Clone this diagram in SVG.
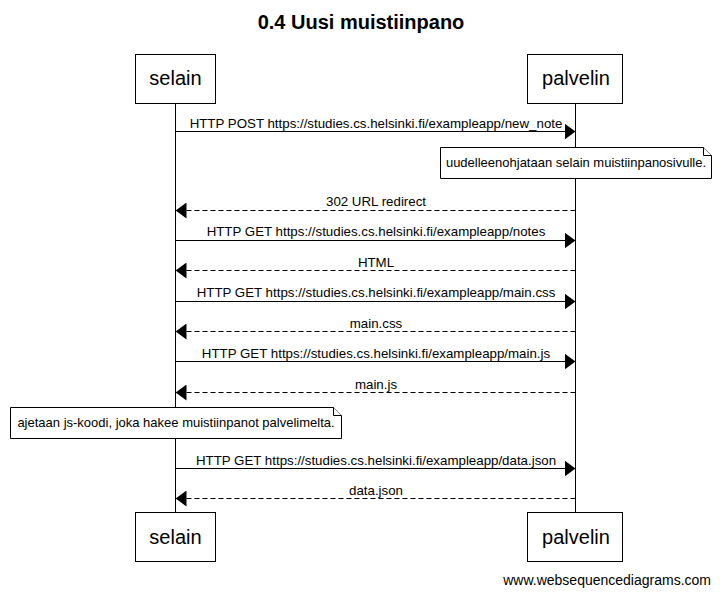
<svg xmlns="http://www.w3.org/2000/svg" width="720" height="595" viewBox="0 0 720 595">
<style>
text{font-family:"Liberation Sans",Arial,sans-serif;fill:#000}
.title{font-size:20px;font-weight:bold;text-anchor:middle}
.part{font-size:20px;text-anchor:middle}
.lbl{font-size:13.3px;text-anchor:middle}
.ntxt{font-size:13px;text-anchor:middle}
.box{fill:#fff;stroke:#000;stroke-width:1}
.life{stroke:#000;stroke-width:1}
.msg{stroke:#000;stroke-width:1;fill:none}
.ret{stroke:#000;stroke-width:1;fill:none;stroke-dasharray:5,3}
.note{fill:#fff;stroke:#000;stroke-width:1}
.wm{font-size:14px;text-anchor:end}
</style>
<defs>
<marker id="ah" markerWidth="11" markerHeight="16" refX="11" refY="8" orient="auto" markerUnits="userSpaceOnUse">
<path d="M0,0 L11,8 L0,16 Z" fill="#000"/>
</marker>
</defs>
<rect width="720" height="595" fill="#fff"/>
<text class="title" x="361" y="29">0.4 Uusi muistiinpano</text>
<g id="lifelines">
<line class="life" x1="175.5" y1="103" x2="175.5" y2="512"/>
<line class="life" x1="575.5" y1="103" x2="575.5" y2="512"/>
</g>
<g id="selain">
<rect class="box" x="135.5" y="54.5" width="80" height="49"/>
<text class="part" x="175.5" y="85">selain</text>
<rect class="box" x="135.5" y="512.5" width="80" height="49"/>
<text class="part" x="175.5" y="544">selain</text>
</g>
<g id="palvelin">
<rect class="box" x="527.5" y="54.5" width="95" height="49"/>
<text class="part" x="576" y="85">palvelin</text>
<rect class="box" x="527.5" y="512.5" width="95" height="49"/>
<text class="part" x="576" y="544">palvelin</text>
</g>
<g id="connectors">
<line class="msg" x1="175.5" y1="131.5" x2="575.5" y2="131.5" marker-end="url(#ah)"/>
<text class="lbl" x="376" y="128">HTTP POST https://studies.cs.helsinki.fi/exampleapp/new_note</text>
<line class="ret" x1="575.5" y1="210.5" x2="175.5" y2="210.5" marker-end="url(#ah)"/>
<text class="lbl" x="376" y="206">302 URL redirect</text>
<line class="msg" x1="175.5" y1="240.5" x2="575.5" y2="240.5" marker-end="url(#ah)"/>
<text class="lbl" x="376" y="236">HTTP GET https://studies.cs.helsinki.fi/exampleapp/notes</text>
<line class="ret" x1="575.5" y1="270.5" x2="175.5" y2="270.5" marker-end="url(#ah)"/>
<text class="lbl" x="376" y="267">HTML</text>
<line class="msg" x1="175.5" y1="301.5" x2="575.5" y2="301.5" marker-end="url(#ah)"/>
<text class="lbl" x="376" y="297">HTTP GET https://studies.cs.helsinki.fi/exampleapp/main.css</text>
<line class="ret" x1="575.5" y1="331.5" x2="175.5" y2="331.5" marker-end="url(#ah)"/>
<text class="lbl" x="376" y="328">main.css</text>
<line class="msg" x1="175.5" y1="361.5" x2="575.5" y2="361.5" marker-end="url(#ah)"/>
<text class="lbl" x="376" y="358">HTTP GET https://studies.cs.helsinki.fi/exampleapp/main.js</text>
<line class="ret" x1="575.5" y1="392.5" x2="175.5" y2="392.5" marker-end="url(#ah)"/>
<text class="lbl" x="376" y="389">main.js</text>
<line class="msg" x1="175.5" y1="468.5" x2="575.5" y2="468.5" marker-end="url(#ah)"/>
<text class="lbl" x="376" y="465">HTTP GET https://studies.cs.helsinki.fi/exampleapp/data.json</text>
<line class="ret" x1="575.5" y1="498.5" x2="175.5" y2="498.5" marker-end="url(#ah)"/>
<text class="lbl" x="376" y="495">data.json</text>
</g>
<g id="note1">
<path class="note" d="M440.5,147.5 H703.5 L711.5,155.5 V178.5 H440.5 Z"/>
<path class="note" d="M703.5,147.5 V155.5 H711.5" fill="none"/>
<text class="ntxt" x="576" y="167">uudelleenohjataan selain muistiinpanosivulle.</text>
</g>
<g id="note2">
<path class="note" d="M10.5,407.5 H333.5 L341.5,415.5 V438.5 H10.5 Z"/>
<path class="note" d="M333.5,407.5 V415.5 H341.5" fill="none"/>
<text class="ntxt" x="176" y="427">ajetaan js-koodi, joka hakee muistiinpanot palvelimelta.</text>
</g>
<text class="wm" x="711" y="585">www.websequencediagrams.com</text>
</svg>
